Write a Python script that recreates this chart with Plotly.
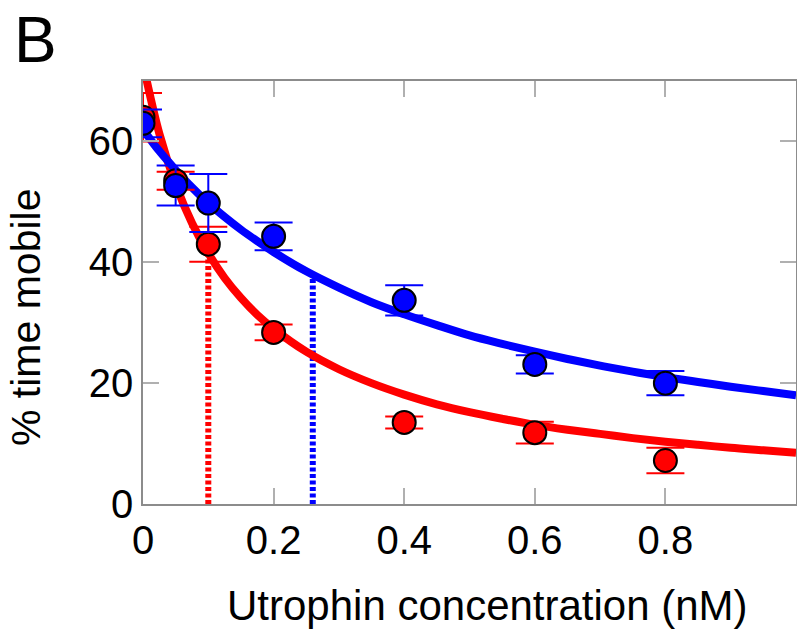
import plotly.graph_objects as go

# data
conc = [0, 0.05, 0.1, 0.2, 0.4, 0.6, 0.8]
blue_vals = [63.0, 52.7, 49.8, 44.3, 33.7, 23.1, 20.0]
blue_err = [2.3, 3.3, 4.8, 2.3, 2.5, 1.5, 2.0]
red_vals = [64.0, 53.5, 43.0, 28.4, 13.5, 11.8, 7.2]
red_err = [4.0, 1.5, 2.9, 1.3, 1.0, 1.8, 2.1]

fit_x = [0, 0.025, 0.05, 0.075, 0.1, 0.125, 0.15, 0.175, 0.2, 0.25, 0.3, 0.35, 0.4, 0.45,
         0.5, 0.55, 0.6, 0.65, 0.7, 0.75, 0.8, 0.85, 0.9, 0.95, 1.0]
blue_fit = [62.0, 58.4, 55.3, 52.4, 49.8, 47.5, 45.4, 43.5, 41.7, 38.5, 35.8, 33.4, 31.4, 29.6,
            27.9, 26.5, 25.2, 24.0, 22.9, 21.9, 21.0, 20.2, 19.4, 18.7, 18.0]
red_fit = [72.9, 61.3, 52.9, 46.5, 41.5, 37.4, 34.1, 31.3, 29.0, 25.2, 22.3, 20.0, 18.1, 16.5,
           15.2, 14.1, 13.1, 12.3, 11.6, 10.9, 10.3, 9.8, 9.3, 8.9, 8.5]

red_marker_x = [0.1, 0.1]
red_marker_y = [0, 41.5]
blue_marker_x = [0.26, 0.26]
blue_marker_y = [0, 38.0]

xtick_vals = [0, 0.2, 0.4, 0.6, 0.8]
xtick_text = ["0", "0.2", "0.4", "0.6", "0.8"]
ytick_vals = [0, 20, 40, 60]

RED = "#ff0000"
BLUE = "#0000ff"
FONT = "Liberation Sans, Arial, sans-serif"

fig = go.Figure()

fig.add_trace(go.Scatter(x=red_marker_x, y=red_marker_y, mode="lines",
                         line=dict(color=RED, width=6, dash="4px,2.5px"), showlegend=False))
fig.add_trace(go.Scatter(x=blue_marker_x, y=blue_marker_y, mode="lines",
                         line=dict(color=BLUE, width=6, dash="4px,2.5px"), showlegend=False))
fig.add_trace(go.Scatter(x=fit_x, y=red_fit, mode="lines", line_shape="spline",
                         line=dict(color=RED, width=8), showlegend=False))
fig.add_trace(go.Scatter(x=fit_x, y=blue_fit, mode="lines", line_shape="spline",
                         line=dict(color=BLUE, width=8), showlegend=False))
fig.add_trace(go.Scatter(x=conc, y=red_vals, mode="markers",
                         marker=dict(color=RED, size=23, line=dict(color="black", width=2)),
                         error_y=dict(type="data", array=red_err, color=RED, thickness=2, width=19),
                         showlegend=False))
fig.add_trace(go.Scatter(x=conc, y=blue_vals, mode="markers",
                         marker=dict(color=BLUE, size=23, line=dict(color="black", width=2)),
                         error_y=dict(type="data", array=blue_err, color=BLUE, thickness=2, width=19),
                         showlegend=False))

axis_common = dict(showline=True, linecolor="#8c8c8c", linewidth=1.5, mirror="ticks",
                   ticks="inside", ticklen=16, tickcolor="#b0b0b0", tickwidth=1.5,
                   showgrid=False, zeroline=False, automargin=False,
                   tickfont=dict(family=FONT, size=40, color="black"))

fig.update_xaxes(range=[0, 1.0], tickvals=xtick_vals, ticktext=xtick_text, **axis_common)
fig.update_yaxes(range=[0, 70], tickvals=ytick_vals, **axis_common)

fig.update_layout(
    width=797, height=634,
    margin=dict(l=143, r=1, t=81, b=130),
    paper_bgcolor="white", plot_bgcolor="white",
    font=dict(family=FONT, color="black"),
    annotations=[
        dict(text="Utrophin concentration (nM)", xref="paper", yref="paper",
             x=0.527, y=-0.239, xanchor="center", yanchor="middle", showarrow=False,
             font=dict(size=42, family=FONT)),
        dict(text="% time mobile", xref="paper", yref="paper", textangle=-90,
             x=-0.179, y=0.44, xanchor="center", yanchor="middle", showarrow=False,
             font=dict(size=41, family=FONT)),
        dict(text="B", xref="paper", yref="paper",
             x=-0.165, y=1.098, xanchor="center", yanchor="middle", showarrow=False,
             font=dict(size=64, family=FONT)),
    ],
)

fig.write_html("out.html", config={"displayModeBar": False},
               post_script="document.body.style.margin='0px';document.body.style.overflow='hidden';")
